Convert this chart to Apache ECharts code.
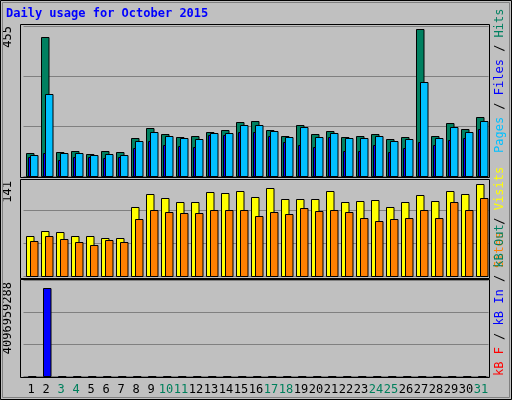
<!DOCTYPE html>
<html><head><meta charset="utf-8">
<script src="https://cdn.jsdelivr.net/npm/echarts@6/dist/echarts.min.js"></script>
<style>html,body{margin:0;padding:0;background:#c0c0c0}#c{width:512px;height:400px}</style>
</head><body><div id="c"></div>
<script>
const days = ['1','2','3','4','5','6','7','8','9','10','11','12','13','14','15','16','17','18','19','20','21','22','23','24','25','26','27','28','29','30','31'];
const weekend = ['3','4','10','11','17','18','24','25','31'];
const hits  = [71,430,74,77,68,77,74,117,148,130,120,124,136,142,167,170,142,124,158,130,139,120,124,130,114,120,455,124,164,145,182];
const files = [65,253,71,71,65,68,65,108,136,124,117,114,133,133,158,158,139,120,151,120,133,117,117,124,108,114,290,117,151,136,170];
const pages = [59,71,49,59,59,56,59,87,108,96,92,90,127,127,136,136,124,105,96,90,120,77,77,96,74,87,105,96,111,117,145];
const visits= [61,69,68,61,61,58,58,106,126,120,114,114,129,127,131,121,135,118,118,118,131,114,115,117,106,114,124,115,131,126,141];
const sites = [54,61,57,52,48,55,52,88,101,98,97,97,101,101,101,92,98,95,104,100,101,98,89,84,88,89,101,89,114,101,120];
const kbIn  = [8000000,4096959288,8000000,8000000,8000000,8000000,8000000,8000000,8000000,8000000,8000000,8000000,8000000,8000000,8000000,8000000,8000000,8000000,8000000,8000000,8000000,8000000,8000000,8000000,8000000,8000000,8000000,8000000,8000000,8000000,8000000];
const maxLabels = ['455','141','4096959288'];

function barSeries(data, gi, x0, x1, color, z){
  return {type:'custom', xAxisIndex:gi, yAxisIndex:gi, z:z, data:data.map((v,i)=>[i,v]),
    renderItem:(params, api)=>{
      const p=api.coord([api.value(0),api.value(1)]);
      const b=api.coord([api.value(0),0]);
      return {type:'rect', shape:{x:Math.round(p[0]+x0)+0.5, y:Math.round(p[1])+0.5, width:x1-x0, height:Math.max(1,Math.round(b[1]-p[1]))},
        style:{fill:color, stroke:'#000', lineWidth:1}};
    }};
}
const grids=[{left:23.5,width:465,top:26,height:150},{left:23.5,width:465,top:177,height:99},{left:23.5,width:465,top:280,height:96}];
const ymax=[464,152,4457100000];
const chart=echarts.init(document.getElementById('c'));
const mono='DejaVu Sans Mono';
chart.setOption({
  animation:false, backgroundColor:'#c0c0c0',
  grid:grids,
  xAxis:grids.map((g,i)=>({type:'category',gridIndex:i,data:days,boundaryGap:true,
    axisLine:{show:false},axisTick:{show:false},
    axisLabel:{show:i===2,margin:8,fontFamily:mono,fontSize:12,interval:0,
      color:(v)=>weekend.includes(v)?'#00805c':'#000'}})),
  yAxis:grids.map((g,i)=>({type:'value',gridIndex:i,min:0,max:ymax[i],interval:ymax[i]/3,
    axisLabel:{show:false},axisLine:{show:false},axisTick:{show:false},
    splitLine:{show:true,lineStyle:{color:'#808080',width:1}}})),
  series:[
    barSeries(hits,0,-5.5,2,'#008060',2),
    barSeries(files,0,-1.5,6,'#00c0ff',3),
    barSeries(pages,0,-3.5,-1.5,'#0000ff',4),
    barSeries(visits,1,-5.5,2,'#ffff00',2),
    barSeries(sites,1,-1.5,6,'#ff8000',3),
    barSeries(kbIn,2,-3.5,4,'#0000ff',2)
  ],
  graphic:[
    {type:'rect',shape:{x:0.5,y:0.5,width:511,height:399},style:{fill:'none',stroke:'#000',lineWidth:1},z:1},
    {type:'rect',shape:{x:2.5,y:2.5,width:507,height:395},style:{fill:'none',stroke:'#808080',lineWidth:1},z:1},
    {type:'rect',shape:{x:20.5,y:24.5,width:469,height:153},style:{fill:'none',stroke:'#000',lineWidth:1},z:10},
    {type:'rect',shape:{x:20.5,y:179.5,width:469,height:99},style:{fill:'none',stroke:'#000',lineWidth:1},z:10},
    {type:'rect',shape:{x:20.5,y:279.5,width:469,height:98},style:{fill:'none',stroke:'#000',lineWidth:1},z:10},
    {type:'text',left:6,top:8,style:{text:'Daily usage for October 2015',fill:'#0000ff',font:'bold 12px "DejaVu Sans Mono"'}},
    {type:'text',x:8,y:26,rotation:Math.PI/2,style:{text:maxLabels[0],fill:'#000',font:'12px "DejaVu Sans Mono"',align:'right',verticalAlign:'middle'}},
    {type:'text',x:8,y:181,rotation:Math.PI/2,style:{text:maxLabels[1],fill:'#000',font:'12px "DejaVu Sans Mono"',align:'right',verticalAlign:'middle'}},
    {type:'text',x:8,y:282,rotation:Math.PI/2,style:{text:maxLabels[2],fill:'#000',font:'12px "DejaVu Sans Mono"',align:'right',verticalAlign:'middle'}},
    {type:'text',x:500,y:153,rotation:Math.PI/2,style:{text:'{a|Pages} / {b|Files} / {c|Hits}',fill:'#000',font:'12px "DejaVu Sans Mono"',align:'left',verticalAlign:'middle',
      rich:{a:{fill:'#00c0ff',font:'12px "DejaVu Sans Mono"'},b:{fill:'#0000ff',font:'12px "DejaVu Sans Mono"'},c:{fill:'#008060',font:'12px "DejaVu Sans Mono"'}}}},
    {type:'text',x:500,y:268,rotation:Math.PI/2,style:{text:'{a|Sites} / {b|Visits}',fill:'#000',font:'12px "DejaVu Sans Mono"',align:'left',verticalAlign:'middle',
      rich:{a:{fill:'#ff8000',font:'12px "DejaVu Sans Mono"'},b:{fill:'#ffff00',font:'12px "DejaVu Sans Mono"'}}}},
    {type:'text',x:500,y:376,rotation:Math.PI/2,style:{text:'{a|kB F} / {b|kB In} / {c|kB Out}',fill:'#000',font:'12px "DejaVu Sans Mono"',align:'left',verticalAlign:'middle',
      rich:{a:{fill:'#ff0000',font:'12px "DejaVu Sans Mono"'},b:{fill:'#0000ff',font:'12px "DejaVu Sans Mono"'},c:{fill:'#008060',font:'12px "DejaVu Sans Mono"'}}}}
  ]
});
</script></body></html>
